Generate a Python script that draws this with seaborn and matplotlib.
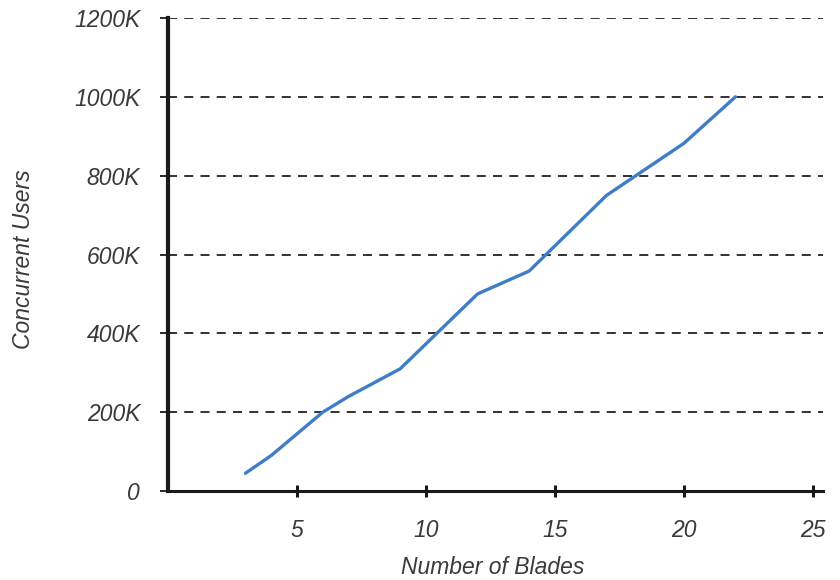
import matplotlib
matplotlib.use("Agg")
import matplotlib.pyplot as plt
import seaborn as sns
import pandas as pd
from matplotlib.ticker import FuncFormatter

blades = [3, 4, 6, 7, 9, 12, 14, 17, 20, 22]
users_k = [45, 90, 200, 240, 310, 500, 558, 750, 882, 1000]
x_ticks = [5, 10, 15, 20, 25]
y_ticks = [0, 200, 400, 600, 800, 1000, 1200]

sns.set_style("white")
plt.rcParams['font.family'] = ['Liberation Sans', 'DejaVu Sans']

df = pd.DataFrame({"Number of Blades": blades, "Concurrent Users": users_k})

fig = plt.figure(figsize=(8.4, 5.8), dpi=100)
ax = fig.add_axes([0.2, 0.1534, 0.78, 0.8156])

for yv in y_ticks[1:]:
    ax.axhline(yv, color="#222222", lw=1.3, ls=(0, (5, 4)), zorder=1)

sns.lineplot(data=df, x="Number of Blades", y="Concurrent Users", ax=ax,
             color="#3f7ec6", lw=2.4, zorder=3)

ax.set_xlim(0, 25.4)
ax.set_ylim(0, 1200)
ax.set_xticks(x_ticks)
ax.set_yticks(y_ticks)
ax.yaxis.set_major_formatter(FuncFormatter(lambda v, p: "0" if v == 0 else f"{int(v)}K"))

for s in ["top", "right"]:
    ax.spines[s].set_visible(False)
ax.spines["left"].set_linewidth(3.0)
ax.spines["bottom"].set_linewidth(2.2)
ax.spines["left"].set_color("#1a1a1a")
ax.spines["bottom"].set_color("#1a1a1a")

tc = "#3a3a3a"
fs = 16.5
ax.tick_params(axis="x", direction="inout", length=8, width=2.2, color="#1a1a1a",
               pad=16, labelsize=fs, labelcolor=tc, bottom=True)
ax.tick_params(axis="y", direction="out", length=6, width=1.3, color="#1a1a1a",
               pad=14, labelsize=fs, labelcolor=tc, left=True)
for lab in ax.get_xticklabels() + ax.get_yticklabels():
    lab.set_fontstyle("italic")

ax.set_xlabel("Number of Blades", fontsize=fs, fontstyle="italic", color=tc)
ax.set_ylabel("Concurrent Users", fontsize=fs, fontstyle="italic", color=tc)
ax.xaxis.set_label_coords(0.495, -0.138)
ax.yaxis.set_label_coords(-0.203, 0.49)

fig.savefig("out.png", dpi=100)
